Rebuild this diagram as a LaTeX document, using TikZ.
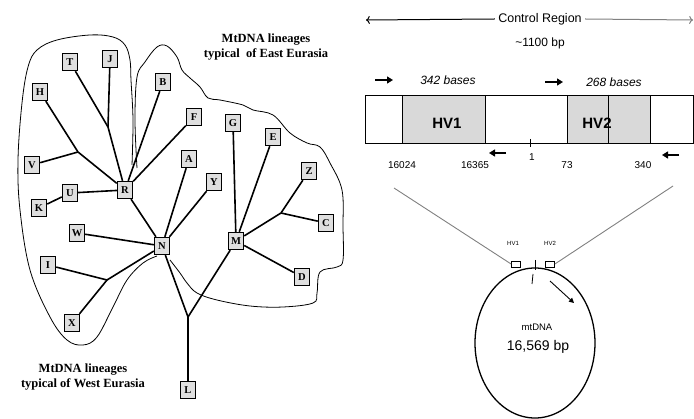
\documentclass[tikz,border=0pt]{standalone}
\usepackage{fontspec}
\setmainfont{Liberation Serif}
\newfontfamily\arial{Liberation Sans}
\usetikzlibrary{arrows.meta,shapes.geometric}

\begin{document}
\begin{tikzpicture}[x=1pt, y=-1pt,
  hap/.style={draw, line width=1.4pt, fill=gray!25, minimum width=15pt, minimum height=17pt, inner sep=0pt, font=\bfseries\fontsize{10.5}{10.5}\selectfont},
  lin/.style={line width=1.6pt},
  rim/.style={line width=0.8pt},
  lbl/.style={align=center, font=\bfseries\fontsize{12.5}{15}\selectfont},
  hv/.style={draw, rim, fill=gray!30, minimum width=83pt, minimum height=48pt, inner sep=0pt},
  hvtext/.style={font=\arial\bfseries\fontsize{15}{15}\selectfont},
  num/.style={font=\arial\fontsize{10}{10}\selectfont},
  primer/.style={-{Triangle[length=6pt,width=7pt]}, line width=1.4pt}]
\useasboundingbox (0,0) rectangle (694,419);

\node[hap] (H) at (40,92) {H};
\node[hap] (T) at (70,62) {T};
\node[hap] (J) at (110,59) {J};
\node[hap] (B) at (163,82) {B};
\node[hap] (F) at (194,117) {F};
\node[hap] (G) at (233,123) {G};
\node[hap] (E) at (273,137) {E};
\node[hap] (A) at (189,159) {A};
\node[hap] (Y) at (214,182) {Y};
\node[hap] (V) at (32,165) {V};
\node[hap] (U) at (70,193) {U};
\node[hap] (R) at (125,190) {R};
\node[hap] (K) at (39,208) {K};
\node[hap] (Z) at (309,171) {Z};
\node[hap] (C) at (326,223) {C};
\node[hap] (W) at (77,233) {W};
\node[hap] (N) at (162,246) {N};
\node[hap] (M) at (236,241) {M};
\node[hap] (I) at (48,265) {I};
\node[hap] (D) at (302,277) {D};
\node[hap] (X) at (72,323) {X};
\node[hap] (L) at (188,390) {L};

\coordinate (jv) at (78,152);
\coordinate (jt) at (108,127);
\coordinate (jx) at (107,280);
\coordinate (jz) at (281,213);
\coordinate (jl) at (188,317);

\draw [lin] (H) -- (jv) -- (R);
\draw [lin] (V) -- (jv);
\draw [lin] (T) -- (jt) -- (R);
\draw [lin] (J) -- (jt);
\draw [lin] (B) -- (R);
\draw [lin] (F) -- (R);
\draw [lin] (U) -- (R);
\draw [lin] (K) -- (U);
\draw [lin] (R) -- (N);
\draw [lin] (A) -- (N);
\draw [lin] (Y) -- (N);
\draw [lin] (W) -- (N);
\draw [lin] (I) -- (jx) -- (N);
\draw [lin] (X) -- (jx);
\draw [lin] (N) -- (jl) -- (L);
\draw [lin] (M) -- (jl);
\draw [lin] (G) -- (M);
\draw [lin] (E) -- (M);
\draw [lin] (Z) -- (jz) -- (M);
\draw [lin] (C) -- (jz);
\draw [lin] (D) -- (M);

\draw [rim] plot [smooth, tension=0.6] coordinates {(132,165) (133,120) (131,80) (130,60) (125,45) (113,37) (90,35) (57,40) (37,50) (28,67) (22,103) (18,160) (20,210) (30,270) (50,317) (67,340) (83,345) (97,337) (113,307) (127,280) (143,263) (157,256)};
\draw [rim] plot [smooth, tension=0.6] coordinates {(137,168) (135,120) (137,77) (145,62) (157,47) (167,46) (177,57) (182,70) (190,78) (200,87) (208,98) (220,100) (243,105) (253,110) (273,115) (290,133) (307,143) (320,147) (330,163) (342,190) (343,227) (343,260) (337,267) (320,272) (317,293) (313,303) (283,307) (250,306) (217,300) (197,293) (187,283) (180,273) (170,260)};

\node[lbl] (east) at (266,47) {MtDNA lineages\\typical\ \ of East Eurasia};
\node[lbl] (west) at (83,377) {MtDNA lineages\\typical of West Eurasia};

\node[font=\arial\fontsize{12.5}{12.5}\selectfont] (ctrl) at (540,19) {Control Region};
\node[font=\arial\fontsize{12}{12}\selectfont] (bp) at (540,43) {\textasciitilde 1100 bp};
\coordinate (cl) at (366,20);
\coordinate (cr) at (693,20);
\draw [->, line width=1pt] (ctrl.west) -- (cl);
\draw [->, line width=1pt, gray] (ctrl.east) -- (cr);

\coordinate (p1a) at (375,80); \coordinate (p1b) at (393,80);
\coordinate (p2a) at (545,82); \coordinate (p2b) at (563,82);
\coordinate (p3a) at (506,153); \coordinate (p3b) at (489,153);
\coordinate (p4a) at (679,155); \coordinate (p4b) at (662,155);
\draw [primer] (p1a) -- (p1b);
\draw [primer] (p2a) -- (p2b);
\draw [primer] (p3a) -- (p3b);
\draw [primer] (p4a) -- (p4b);
\node[font=\arial\itshape\fontsize{12}{12}\selectfont] (b342) at (448,80) {342 bases};
\node[font=\arial\itshape\fontsize{12}{12}\selectfont] (b268) at (614,82) {268 bases};

\draw [rim] (365,95) rectangle (693,143);
\node[hv] (hv1) at (443.5,119) {};
\node[hv] (hv2) at (608.5,119) {};
\draw [rim] (hv2.north) -- (hv2.south);
\node[hvtext] (hv1t) at (447,123) {HV1};
\node[hvtext] (hv2t) at (597,123) {HV2};
\coordinate (t1) at (530,139); \coordinate (t2) at (530,147);
\draw [rim] (t1) -- (t2);

\node[num] (n1) at (402,165) {16024};
\node[num] (n2) at (475,165) {16365};
\node[num] (n3) at (532,157) {1};
\node[num] (n4) at (567,165) {73};
\node[num] (n5) at (643,165) {340};

\node[draw, ellipse, line width=1.3pt, minimum width=120pt, minimum height=150pt, inner sep=0pt] (mt) at (535,343) {};
\node[font=\arial\fontsize{9.5}{9.5}\selectfont] (mtl) at (537,327) {mtDNA};
\node[font=\arial\fontsize{14}{14}\selectfont] (mtn) at (538,347) {16,569 bp};

\node[draw, rim, minimum width=9pt, minimum height=6pt, inner sep=0pt] (s1) at (516,264) {};
\node[draw, rim, minimum width=9pt, minimum height=6pt, inner sep=0pt] (s2) at (550,264) {};
\node[font=\arial\fontsize{6}{6}\selectfont] (s1l) at (513,243) {HV1};
\node[font=\arial\fontsize{6}{6}\selectfont] (s2l) at (550,243) {HV2};
\coordinate (o1) at (535,260); \coordinate (o2) at (535,270);
\draw [rim] (o1) -- (o2);
\coordinate (o3) at (533,274); \coordinate (o4) at (532,284);
\draw [rim] (o3) -- (o4);
\coordinate (a1) at (550,281); \coordinate (a2) at (574,303);
\draw [-{Triangle[length=5pt,width=5pt]}, line width=0.9pt] (a1) -- (a2);

\coordinate (ll) at (394,188);
\coordinate (lr) at (673,186);
\draw [gray, line width=0.9pt] (ll) -- (s1.west);
\draw [gray, line width=0.9pt] (lr) -- (s2.east);
\end{tikzpicture}
\end{document}
